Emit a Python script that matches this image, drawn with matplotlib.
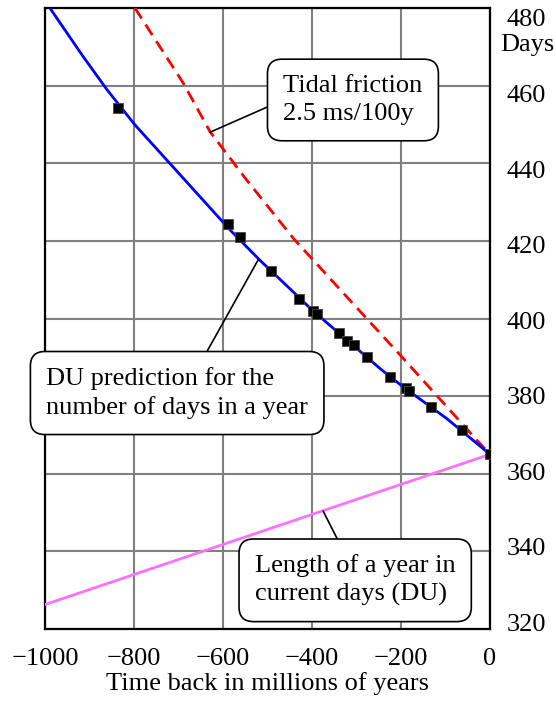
import matplotlib
matplotlib.use("Agg")
import matplotlib.pyplot as plt
import matplotlib.transforms as mtransforms

plt.rcParams['font.family'] = ['Liberation Serif', 'DejaVu Serif']

# coral / fossil growth-band estimates (time in My, days per year)
obs_t = [-835, -589, -561, -493, -429, -397, -389, -339, -321, -306,
         -277, -225, -189, -181, -133, -64, 0]
obs_days = [454.2, 424.3, 421.1, 412.3, 405.1, 401.9, 401.1, 396.2, 394.1, 393.2,
            390.0, 385.0, 382.0, 381.4, 377.2, 371.4, 365.0]

# DU prediction for days in a year
du_t = [-989, -915, -861, -798, -689, -584, -517, -427, -400, -247, -200, -97, 0]
du_days = [480, 467.6, 459.0, 449.9, 436.1, 422.8, 415.0, 405.2, 402.2, 387.1, 382.8, 374.2, 365]

# tidal friction 2.5 ms/100y
tidal_t = [-798, -689, -629, -547, -440, -322, -202, -124, -30, 0]
tidal_days = [480, 460.6, 448.1, 435.7, 420.4, 405.6, 390.6, 380.7, 368.7, 365]

# length of a year in current days (DU)
year_t = [-1000, 0]
year_days = [326.3, 365]

xticks = [-1000, -800, -600, -400, -200, 0]
yticks = [320, 340, 360, 380, 400, 420, 440, 460, 480]

fig = plt.figure(figsize=(5.56, 7.01), dpi=100)
ax = fig.add_axes([45/556, 72/701, 445/556, 621/701])

ax.plot(year_t, year_days, color='#ff70ff', lw=2.0, zorder=3)
ax.plot(tidal_t, tidal_days, color='#ff0000', lw=2.0, dashes=(4.5, 2.6), zorder=3)
ax.plot(du_t, du_days, color='#0000ff', lw=2.0, zorder=4)
ax.plot(obs_t, obs_days, 's', color='black', markersize=7, markeredgecolor='#444444',
        markeredgewidth=0.6, zorder=5)

ax.set_xlim(-1000, 0)
ax.set_ylim(320, 480)
ax.set_xticks(xticks)
ax.set_yticks(yticks)
ax.set_xticklabels(['\u2212' + str(-t) if t < 0 else str(t) for t in xticks])
ax.grid(True, color='#808080', lw=1.5, zorder=1)
ax.set_axisbelow(True)

ax.yaxis.tick_right()
ax.tick_params(axis='both', length=0, labelsize=19)
ax.tick_params(axis='y', pad=12)
ax.tick_params(axis='x', pad=14)
for s in ax.spines.values():
    s.set_linewidth(1.6)
    s.set_color('black')

# right-hand day labels sit on a slightly tighter spacing than the grid
for v, lab in zip(yticks, ax.get_yticklabels()):
    off = 10 - (480 - v) / 20 * 2.1
    lab.set_transform(lab.get_transform() +
                      mtransforms.ScaledTranslation(0, -off / 100, fig.dpi_scale_trans))

ax.set_xlabel('Time back in millions of years', fontsize=19, labelpad=1)
ax.text(1.083, 0.94, 'Days', transform=ax.transAxes, fontsize=19,
        ha='center', va='center')

box = dict(boxstyle='round,pad=0.6,rounding_size=0.55', fc='white', ec='black', lw=1.2)
line = dict(arrowstyle='-', color='black', lw=1.2, shrinkA=0, shrinkB=0)

ax.annotate('Tidal friction\n2.5 ms/100y', xy=(-629, 448), xytext=(-308, 456.3),
            fontsize=19, ha='center', va='center', multialignment='left',
            linespacing=1.35, bbox=box, arrowprops=dict(line, relpos=(0, 0.5)), zorder=6)
ax.annotate('DU prediction for the\nnumber of days in a year', xy=(-521, 415.1),
            xytext=(-703, 380.8), fontsize=19, ha='center', va='center',
            multialignment='left', linespacing=1.3, bbox=box,
            arrowprops=dict(line, relpos=(0.58, 1.0)), zorder=6)
ax.annotate('Length of a year in\ncurrent days (DU)', xy=(-375, 350.4),
            xytext=(-303, 332.6), fontsize=19, ha='center', va='center',
            multialignment='left', linespacing=1.3, bbox=box,
            arrowprops=dict(line, relpos=(0.45, 1.0)), zorder=6)

fig.savefig('out.png', dpi=100)
